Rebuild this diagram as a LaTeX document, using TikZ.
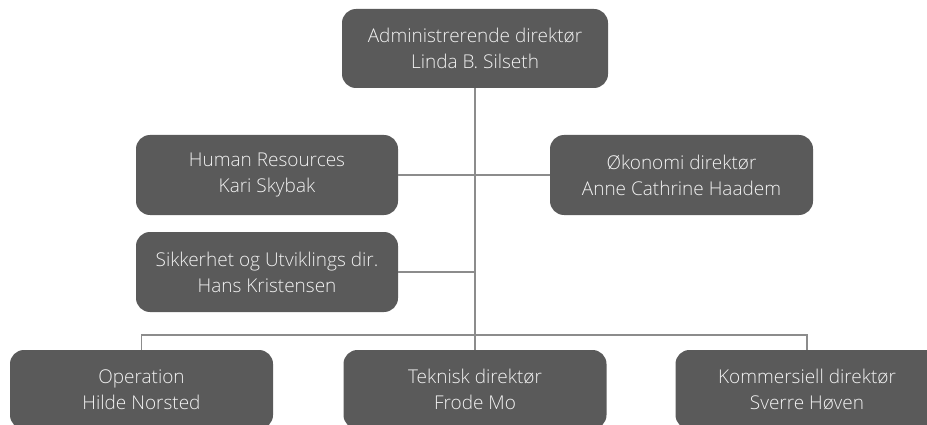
\documentclass[tikz,border=0pt]{standalone}
\usepackage{fontspec}
\setmainfont{Open Sans}[UprightFont={* Light}]
\definecolor{boxfill}{HTML}{5A5A5A}
\definecolor{linegray}{HTML}{8C8C8C}
\definecolor{txt}{HTML}{F2F2F2}
\begin{document}
\begin{tikzpicture}[x=1pt,y=-1pt,
  orgbox/.style={rectangle, rounded corners=14pt, fill=boxfill, text=txt,
    minimum width=263pt, minimum height=79pt, align=center, inner sep=0pt,
    font=\fontsize{19}{26}\selectfont},
  conn/.style={draw=linegray, line width=1.1pt}]
\useasboundingbox (0,0) rectangle (927,425);
\clip (0,0) rectangle (927,425);
\node[orgbox, minimum width=266pt] (top) at (475,48.5) {Administrerende direktør\\Linda B. Silseth};
\node[orgbox, minimum width=262pt, minimum height=80pt] (hr) at (267,175) {Human Resources\\Kari Skybak};
\node[orgbox, minimum width=262pt, minimum height=80pt] (sik) at (267,272) {Sikkerhet og Utviklings dir.\\Hans Kristensen};
\node[orgbox, minimum height=80pt] (ok) at (681.5,175) {Økonomi direktør\\Anne Cathrine Haadem};
\node[orgbox] (op) at (141.5,389.5) {Operation\\Hilde Norsted};
\node[orgbox] (tek) at (475,389.5) {Teknisk direktør\\Frode Mo};
\node[orgbox] (kom) at (807,389.5) {Kommersiell direktør\\Sverre Høven};
\coordinate (bus) at (475,335);
\draw[conn] (top.south) -- (tek.north);
\draw[conn] (hr.east) -- (hr.east -| top.south);
\draw[conn] (ok.west) -- (ok.west -| top.south);
\draw[conn] (sik.east) -- (sik.east -| top.south);
\draw[conn] (op.north) |- (bus) -| (kom.north);
\end{tikzpicture}
\end{document}
